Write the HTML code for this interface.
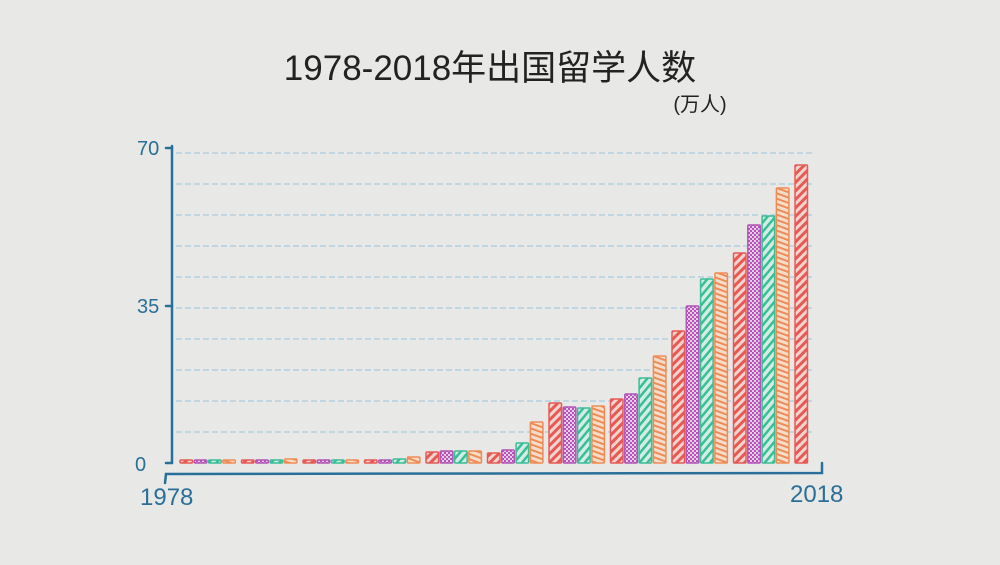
<!DOCTYPE html>
<html><head><meta charset="utf-8"><style>
html,body{margin:0;padding:0;background:#e8e8e7;}
svg{display:block}
</style></head><body>
<svg id="s" width="1000" height="565" viewBox="0 0 1000 565" xmlns="http://www.w3.org/2000/svg">
<defs>
<pattern id="pr" width="6" height="6" patternUnits="userSpaceOnUse" patternTransform="rotate(45)"><rect width="6" height="6" fill="#f3d5d0"/><rect width="3" height="6" fill="#e65a55"/></pattern>
<pattern id="pp" width="4" height="4" patternUnits="userSpaceOnUse"><rect width="4" height="4" fill="#e9cde8"/><rect width="2" height="2" fill="#b255b6"/><rect x="2" y="2" width="2" height="2" fill="#b255b6"/></pattern>
<pattern id="pt" width="6" height="6" patternUnits="userSpaceOnUse" patternTransform="rotate(40)"><rect width="6" height="6" fill="#d3ede4"/><rect width="2.5" height="6" fill="#3bbd97"/></pattern>
<pattern id="po" width="5" height="5" patternUnits="userSpaceOnUse" patternTransform="rotate(20)"><rect width="5" height="5" fill="#f6dccb"/><rect width="5" height="2" fill="#ef8c55"/></pattern>
</defs>
<rect width="1000" height="565" fill="#e8e8e7"/>
<g id="grid" stroke="#a9cbe0" stroke-width="1.2" stroke-dasharray="6 3"></g>
<g id="bars"></g>
<g stroke="#2a6f97" stroke-width="2.5" fill="none" stroke-linecap="round">
<path d="M172 146 L172 463"/>
<path d="M166 148 L172 148 M166 306 L172 306 M166 463 L172 463"/>
<path d="M165 483 L166 474 L822 473 L822 463"/>
</g>
<g fill="#2a6f97" font-family="Liberation Sans, sans-serif" font-size="20">
<text x="137" y="155">70</text>
<text x="137" y="313">35</text>
<text x="135" y="471">0</text>
<text x="140" y="505" font-size="24">1978</text>
<text x="790" y="502" font-size="24">2018</text>
</g>
<text x="490" y="80" text-anchor="middle" font-family="Liberation Sans, 'Noto Sans CJK SC', sans-serif" font-size="35" fill="#222">1978-2018年出国留学人数</text>
<text x="700" y="111" text-anchor="middle" font-family="Liberation Sans, 'Noto Sans CJK SC', sans-serif" font-size="20" fill="#222">(万人)</text>
</svg>
<script>
var ns="http://www.w3.org/2000/svg";
var g=document.getElementById('grid');
for(var y=432;y>140;y-=31){var l=document.createElementNS(ns,'line');l.setAttribute('x1',176);l.setAttribute('x2',812);l.setAttribute('y1',y);l.setAttribute('y2',y);g.appendChild(l);}
var tops=[460,460,460,460, 460,460,460,459, 460,460,460,460, 460,460,459,457,
452,451,451,451, 453,450,443,422, 403,407,408,406, 399,394,378,356,
331,306,279,273, 253,225,216,188, 165];
var fills=['url(#pr)','url(#pp)','url(#pt)','url(#po)'];
var strokes=['#e65a55','#b255b6','#3bbd97','#ef8c55'];
var b=document.getElementById('bars');
for(var i=0;i<41;i++){
 var grp=Math.floor(i/4),k=i%4;
 var x=180+grp*61.5+k*14.3;
 var r=document.createElementNS(ns,'rect');
 r.setAttribute('x',x);r.setAttribute('y',tops[i]);r.setAttribute('width',12.5);
 r.setAttribute('height',463-tops[i]);r.setAttribute('fill',fills[k]);
 r.setAttribute('stroke',strokes[k]);r.setAttribute('stroke-width',1.5);r.setAttribute('rx',1);
 b.appendChild(r);
}
</script>
</body></html>
